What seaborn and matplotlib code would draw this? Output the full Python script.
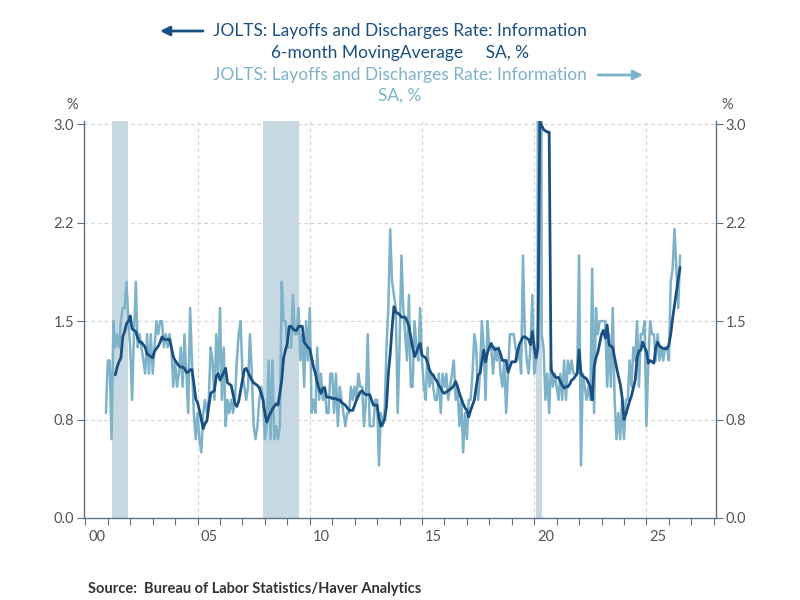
import pandas as pd
import seaborn as sns
import matplotlib.pyplot as plt
from matplotlib.ticker import FormatStrFormatter, FixedLocator, NullFormatter

# -------------------------
# Data (monthly)
# -------------------------
first_month = "2000-12-01"
layoffs_rate = [
    0.8,
    1.2, 1.2, 0.6, 1.5, 1.3, 1.4, 1.3, 1.5, 1.6, 1.6, 1.8, 1.5,  # 2001
    1.3, 0.9, 1.4, 1.8, 1.3, 1.4, 1.3, 1.2, 1.1, 1.4, 1.1, 1.4,  # 2002
    1.1, 1.3, 1.5, 1.4, 1.5, 1.5, 1.3, 1.4, 1.3, 1.4, 1.3, 1.0,  # 2003
    1.2, 1.0, 1.1, 1.3, 1.0, 1.4, 1.1, 0.8, 1.6, 1.2, 0.8, 0.6,  # 2004
    0.8, 0.6, 0.5, 0.8, 0.9, 0.8, 0.9, 1.3, 1.2, 0.9, 1.4, 1.1,  # 2005
    1.6, 0.9, 1.3, 0.7, 0.9, 0.8, 0.9, 0.8, 0.9, 1.2, 1.4, 1.5,  # 2006
    1.1, 1.0, 0.9, 1.0, 1.4, 1.1, 0.7, 0.6, 0.7, 0.9, 1.0, 0.9,  # 2007
    0.6, 0.7, 1.2, 0.6, 1.2, 0.6, 0.7, 0.6, 0.7, 1.8, 1.5, 1.5,  # 2008
    1.3, 1.3, 1.3, 1.7, 1.4, 1.4, 1.6, 1.2, 1.4, 1.0, 1.5, 1.2,  # 2009
    1.6, 0.8, 0.9, 0.8, 1.3, 0.9, 1.1, 0.9, 1.0, 0.8, 0.8, 1.1,  # 2010
    1.1, 0.8, 1.1, 0.7, 1.0, 0.9, 0.8, 0.7, 0.8, 0.8, 1.0, 0.9,  # 2011
    1.0, 0.9, 1.1, 1.0, 1.0, 0.7, 0.9, 1.4, 0.7, 0.7, 0.7, 0.9,  # 2012
    0.9, 0.4, 0.8, 0.7, 0.8, 1.3, 1.6, 2.2, 1.8, 1.7, 1.6, 0.8,  # 2013
    1.3, 2.0, 1.6, 1.4, 1.2, 1.7, 1.0, 1.0, 1.5, 1.3, 1.2, 1.6,  # 2014
    1.2, 1.0, 0.9, 1.3, 1.0, 1.1, 1.0, 0.9, 0.9, 1.1, 0.8, 1.1,  # 2015
    1.0, 1.1, 0.9, 1.0, 1.1, 1.2, 0.9, 1.0, 0.7, 0.9, 0.5, 0.8,  # 2016
    0.6, 0.9, 0.9, 1.1, 1.4, 1.3, 0.9, 1.1, 1.5, 1.3, 0.9, 1.5,  # 2017
    1.3, 1.3, 1.1, 1.3, 1.2, 1.3, 1.1, 1.0, 1.2, 0.8, 1.1, 1.4,  # 2018
    1.4, 1.4, 1.3, 1.2, 1.3, 1.1, 2.0, 1.4, 1.2, 1.1, 1.3, 1.7,  # 2019
    1.1, 1.2, 1.5, 11.0, 1.4, 1.3, 0.9, 1.1, 0.8, 1.2, 1.0, 1.1,  # 2020
    1.0, 0.9, 1.1, 0.9, 1.2, 0.9, 1.2, 1.1, 1.2, 1.1, 1.1, 1.1,  # 2021
    2.0, 0.4, 1.1, 1.0, 0.9, 1.0, 0.9, 1.9, 0.8, 1.6, 1.4, 1.5,  # 2022
    1.5, 1.5, 1.5, 1.0, 1.4, 1.0, 1.6, 0.9, 0.6, 0.8, 0.6, 0.9,  # 2023
    0.6, 0.9, 0.9, 1.2, 1.0, 1.3, 1.2, 1.5, 1.0, 1.4, 1.4, 1.5,  # 2024
    0.7, 1.2, 1.5, 1.4, 1.4, 1.2, 1.4, 1.2, 1.3, 1.2, 1.3, 1.3,  # 2025
    1.2, 1.8, 1.9, 2.2, 1.9, 1.6, 2.0,  # 2026
]

ma_first_month = "2001-05-01"
moving_avg = [
    1.09, 1.15, 1.19, 1.22, 1.38, 1.42, 1.48, 1.50,  # 2001
    1.54, 1.44, 1.43, 1.42, 1.37, 1.34, 1.34, 1.32, 1.30, 1.25, 1.24, 1.23,  # 2002
    1.22, 1.27, 1.29, 1.31, 1.34, 1.38, 1.36, 1.36, 1.36, 1.36, 1.30, 1.23,  # 2003
    1.20, 1.18, 1.16, 1.15, 1.15, 1.14, 1.11, 1.11, 1.13, 1.13, 1.03, 0.91,  # 2004
    0.88, 0.82, 0.75, 0.68, 0.72, 0.74, 0.85, 0.95, 0.96, 0.97, 1.08, 1.10,  # 2005
    1.05, 1.08, 1.11, 1.14, 1.03, 1.02, 1.01, 0.94, 0.87, 0.85, 0.89, 0.97,  # 2006
    1.05, 1.13, 1.14, 1.11, 1.08, 1.05, 1.03, 1.02, 1.01, 0.99, 0.95, 0.90,  # 2007
    0.80, 0.73, 0.77, 0.80, 0.83, 0.85, 0.87, 0.86, 0.95, 1.05, 1.22, 1.28,  # 2008
    1.33, 1.46, 1.46, 1.44, 1.43, 1.43, 1.46, 1.46, 1.46, 1.34, 1.32, 1.30,  # 2009
    1.29, 1.22, 1.15, 1.10, 1.03, 0.98, 0.95, 0.99, 0.99, 0.92, 0.92, 0.92,  # 2010
    0.91, 0.91, 0.91, 0.90, 0.90, 0.88, 0.87, 0.86, 0.84, 0.82, 0.82, 0.82,  # 2011
    0.86, 0.90, 0.93, 0.96, 0.97, 0.95, 0.94, 0.94, 0.94, 0.90, 0.86, 0.86,  # 2012
    0.86, 0.76, 0.70, 0.72, 0.75, 0.85, 1.10, 1.25, 1.45, 1.61, 1.57, 1.56,  # 2013
    1.55, 1.53, 1.53, 1.53, 1.50, 1.46, 1.38, 1.30, 1.23, 1.26, 1.30, 1.33,  # 2014
    1.24, 1.23, 1.22, 1.18, 1.13, 1.10, 1.09, 1.06, 1.04, 1.01, 0.99, 0.96,  # 2015
    0.95, 0.96, 0.97, 0.98, 0.99, 1.01, 1.04, 1.00, 0.95, 0.91, 0.87, 0.84,  # 2016
    0.82, 0.77, 0.82, 0.86, 0.90, 1.00, 1.09, 1.10, 1.19, 1.28, 1.19, 1.26,  # 2017
    1.30, 1.33, 1.30, 1.28, 1.29, 1.29, 1.25, 1.20, 1.20, 1.20, 1.11, 1.15,  # 2018
    1.19, 1.19, 1.19, 1.26, 1.32, 1.35, 1.38, 1.38, 1.37, 1.36, 1.32, 1.42,  # 2019
    1.30, 1.22, 1.30, 3.02, 2.99, 2.96, 2.95, 2.94, 2.94, 1.13, 1.10, 1.08,  # 2020
    1.07, 1.07, 1.04, 1.01, 0.99, 1.00, 1.00, 1.02, 1.05, 1.06, 1.08, 1.10,  # 2021
    1.28, 1.10, 1.08, 1.07, 1.06, 1.03, 1.00, 0.90, 1.15, 1.22, 1.26, 1.33,  # 2022
    1.40, 1.43, 1.37, 1.47, 1.32, 1.31, 1.30, 1.22, 1.15, 1.08, 1.02, 0.92,  # 2023
    0.75, 0.79, 0.84, 0.89, 0.93, 0.99, 1.05, 1.22, 1.27, 1.28, 1.34, 1.30,  # 2024
    1.27, 1.18, 1.20, 1.19, 1.18, 1.30, 1.34, 1.31, 1.30, 1.29, 1.29, 1.29,  # 2025
    1.32, 1.40, 1.52, 1.62, 1.72, 1.82, 1.91,  # 2026
]

recessions = [("2001-03-01", "2001-12-01"),
              ("2007-12-01", "2009-07-01"),
              ("2020-02-01", "2020-05-01")]

y_ticks = [0.0, 0.75, 1.5, 2.25, 3.0]
label_years = [2000, 2005, 2010, 2015, 2020, 2025]
year_labels = ["00", "05", "10", "15", "20", "25"]

# -------------------------
# Colours
# -------------------------
dark = "#1a4f82"
light = "#7db2c8"
recess_col = "#c6d9e3"
spine_col = "#5f7386"
grid_col = "#d2d2d2"
label_col = "#555555"


def to_decimal_year(dates):
    dates = pd.DatetimeIndex(dates)
    return dates.year + (dates.month - 1) / 12


raw_df = pd.DataFrame({
    "date": pd.date_range(first_month, periods=len(layoffs_rate), freq="MS"),
    "rate": layoffs_rate,
})
raw_df["t"] = to_decimal_year(raw_df["date"])

ma_df = pd.DataFrame({
    "date": pd.date_range(ma_first_month, periods=len(moving_avg), freq="MS"),
    "ma": moving_avg,
})
ma_df["t"] = to_decimal_year(ma_df["date"])

# -------------------------
# Plot
# -------------------------
sns.set_style("white")
plt.rcParams["font.family"] = ["Lato", "DejaVu Sans"]

fig = plt.figure(figsize=(8, 6), dpi=100)
ax = fig.add_axes([0.105, 0.1367, 0.79, 0.6617])
ax2 = ax.twinx()
ax.set_zorder(ax2.get_zorder() + 1)
ax.patch.set_visible(False)

# recession shading + grid on the back axes
for start, end in recessions:
    s, e = to_decimal_year([start, end])
    ax2.axvspan(s, e, color=recess_col, lw=0, zorder=0)
for yr in label_years[1:]:
    ax2.axvline(yr, color=grid_col, lw=0.8, ls=(0, (3, 3)), zorder=0.5)
for yv in y_ticks[1:]:
    ax2.axhline(yv, color=grid_col, lw=0.8, ls=(0, (3, 3)), zorder=0.5)

sns.lineplot(data=raw_df, x="t", y="rate", ax=ax2, color=light, linewidth=1.8)
sns.lineplot(data=ma_df, x="t", y="ma", ax=ax, color=dark, linewidth=2.0)

for a in (ax, ax2):
    a.set_xlim(1999.94, 2028.1)
    a.set_ylim(0, 3.025)
    a.set_yticks(y_ticks)
    a.yaxis.set_major_formatter(FormatStrFormatter("%.1f"))
    a.set_xlabel("")
    a.set_ylabel("")
    for sp in a.spines.values():
        sp.set_color(spine_col)
        sp.set_linewidth(1.0)

ax.spines["top"].set_visible(False)
ax.spines["right"].set_visible(False)
ax2.spines["top"].set_visible(False)
ax2.spines["left"].set_visible(False)
ax2.spines["bottom"].set_visible(False)

ax.tick_params(axis="y", direction="out", length=5, color=spine_col,
               labelcolor=label_col, labelsize=10.5, pad=2, left=True)
ax2.tick_params(axis="y", direction="out", length=5, color=spine_col,
                labelcolor=label_col, labelsize=10.5, pad=2, right=True)

# year ticks on the axis, labels centred in the year
ax.xaxis.set_major_locator(FixedLocator(list(range(2000, 2029))))
ax.xaxis.set_major_formatter(NullFormatter())
ax.xaxis.set_minor_locator(FixedLocator([y + 0.5 for y in label_years]))
ax.set_xticklabels(year_labels, minor=True)
ax.tick_params(axis="x", which="major", direction="out", length=5,
               color=spine_col, bottom=True)
ax.tick_params(axis="x", which="minor", length=0, pad=9,
               labelcolor=label_col, labelsize=10.5, bottom=True)

# -------------------------
# Legend / text
# -------------------------
fig.text(0.5, 1 - 31 / 600, "JOLTS: Layoffs and Discharges Rate: Information",
         ha="center", va="center", color=dark, fontsize=12.5)
fig.text(0.5, 1 - 53 / 600, "6-month MovingAverage     SA, %",
         ha="center", va="center", color=dark, fontsize=12.5)
fig.text(0.5, 1 - 75 / 600, "JOLTS: Layoffs and Discharges Rate: Information",
         ha="center", va="center", color=light, fontsize=12.5)
fig.text(0.5, 1 - 96 / 600, "SA, %",
         ha="center", va="center", color=light, fontsize=12.5)

ax.annotate("", xy=(160 / 800, 1 - 31 / 600), xytext=(203 / 800, 1 - 31 / 600),
            xycoords="figure fraction", textcoords="figure fraction",
            annotation_clip=False,
            arrowprops=dict(arrowstyle="-|>", color=dark, lw=2,
                            mutation_scale=14, shrinkA=0, shrinkB=0))
ax.annotate("", xy=(643 / 800, 1 - 75 / 600), xytext=(598 / 800, 1 - 75 / 600),
            xycoords="figure fraction", textcoords="figure fraction",
            annotation_clip=False,
            arrowprops=dict(arrowstyle="-|>", color=light, lw=2,
                            mutation_scale=14, shrinkA=0, shrinkB=0))

fig.text(72 / 800, 1 - 105 / 600, "%", ha="center", va="center",
         color=label_col, fontsize=10.5)
fig.text(727 / 800, 1 - 105 / 600, "%", ha="center", va="center",
         color=label_col, fontsize=10.5)

fig.text(88 / 800, 1 - 589 / 600,
         "Source:  Bureau of Labor Statistics/Haver Analytics",
         ha="left", va="center", color="#333333", fontsize=10.5,
         fontweight="bold")

fig.savefig("out.png", dpi=100, facecolor="white")
